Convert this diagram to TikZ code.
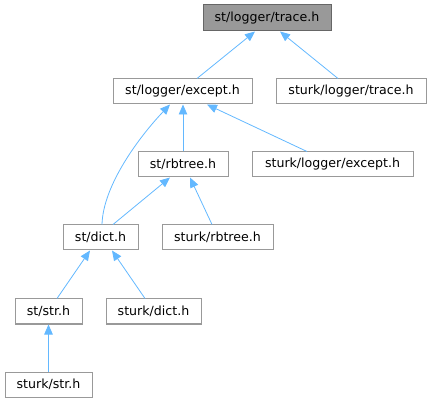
\documentclass[tikz,border=0pt]{standalone}
\usepackage{fontspec}
\setmainfont{DejaVu Sans}
\usetikzlibrary{arrows.meta}
\definecolor{edgeblue}{HTML}{63B8FF}
\definecolor{rootfill}{HTML}{999999}
\definecolor{rootdraw}{HTML}{666666}
\definecolor{boxdraw}{HTML}{999999}
\begin{document}
\begin{tikzpicture}[x=1pt,y=-1pt,
  filebox/.style={draw=boxdraw,fill=white,line width=1pt,minimum height=25pt,inner sep=0pt,
    font=\fontsize{12.6}{15}\selectfont,text=black},
  rootbox/.style={filebox,draw=rootdraw,fill=rootfill},
  dep/.style={draw=edgeblue,line width=0.8pt,-{Triangle[length=10pt,width=8.5pt]}}]
\useasboundingbox (0,0) rectangle (431,403);
\node[rootbox,minimum width=128pt,minimum height=26pt] (trace) at (267,18) {st/logger/trace.h};
\node[filebox,minimum width=139pt] (except) at (182.5,91.5) {st/logger/except.h};
\node[filebox,minimum width=150pt] (sltrace) at (351,91.5) {sturk/logger/trace.h};
\node[filebox,minimum width=90pt] (rbtree) at (183,164.5) {st/rbtree.h};
\node[filebox,minimum width=161pt] (slexcept) at (332.5,164.5) {sturk/logger/except.h};
\node[filebox,minimum width=75pt] (dict) at (100.5,237.5) {st/dict.h};
\node[filebox,minimum width=111pt] (srbtree) at (217.5,237.5) {sturk/rbtree.h};
\node[filebox,minimum width=67pt] (str) at (48.5,311.5) {st/str.h};
\node[filebox,minimum width=95pt] (sdict) at (153.5,311.5) {sturk/dict.h};
\node[filebox,minimum width=87pt] (sstr) at (48.5,384.5) {sturk/str.h};

\draw[dep] ([xshift=14.5pt]except.north) -- ([xshift=-12pt]trace.south);
\draw[dep] ([xshift=-13pt]sltrace.north) -- ([xshift=13pt]trace.south);
\draw[dep] (rbtree.north) -- (rbtree.north |- except.south);
\draw[dep] ([xshift=-25.5pt]slexcept.north) -- ([xshift=24.5pt]except.south);
\draw[dep] ([xshift=1.5pt]dict.north) .. controls (103,185) and (140,136) .. ([xshift=-12.5pt]except.south);
\draw[dep] ([xshift=12.5pt]dict.north) -- ([xshift=-13pt]rbtree.south);
\draw[dep] ([xshift=-5.5pt]srbtree.north) -- ([xshift=7pt]rbtree.south);
\draw[dep] ([xshift=8.5pt]str.north) -- ([xshift=-10.5pt]dict.south);
\draw[dep] ([xshift=-8.5pt]sdict.north) -- ([xshift=11.5pt]dict.south);
\draw[dep] (sstr.north) -- (str.south);
\end{tikzpicture}
\end{document}
